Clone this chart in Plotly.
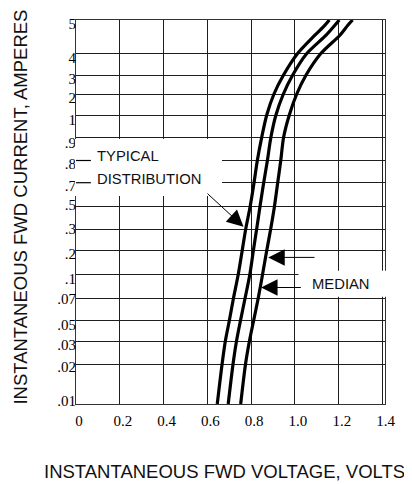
import numpy as np
import plotly.graph_objects as go

# ---- data ----
# y-axis gridline currents (bottom -> top), labels and the chart's (non-uniform) gridline positions
tick_currents = [0.01, 0.02, 0.03, 0.05, 0.07, 0.1, 0.2, 0.3, 0.5, 0.7, 0.8, 0.9, 1, 2, 3, 4, 5]
tick_labels = [".01", ".02", ".03", ".05", ".07", ".1", ".2", ".3", ".5", ".7", ".8", ".9",
               "1", "2", "3", "4", "5"]
grid_pos = [0, 39.8, 63, 83.3, 105.7, 129.7, 153.5, 175, 197.3, 221.3, 243.5, 266.7,
            289, 310, 328.7, 350.2, 384]

x_ticks = [0, 0.2, 0.4, 0.6, 0.8, 1.0, 1.2, 1.4]
x_tick_labels = ["0", "0.2", "0.4", "0.6", "0.8", "1.0", "1.2", "1.4"]

# curve samples: current (A) and forward voltage (V) of the three distribution curves
current = [0.01, 0.02, 0.03, 0.05, 0.07, 0.1, 0.2, 0.3, 0.5, 0.7, 0.8, 0.9, 1, 2, 3, 4, 4.55, 4.85, 5]
v_low = [0.645, 0.667, 0.682, 0.700, 0.719, 0.741, 0.759, 0.775, 0.795, 0.813, 0.828, 0.848,
         0.871, 0.904, 0.947, 1.011, 1.091, 1.137, 1.157]
v_median = [0.695, 0.717, 0.733, 0.751, 0.772, 0.794, 0.810, 0.825, 0.840, 0.857, 0.874, 0.890,
            0.913, 0.947, 0.989, 1.053, 1.142, 1.183, 1.202]
v_high = [0.752, 0.774, 0.792, 0.811, 0.832, 0.852, 0.871, 0.889, 0.906, 0.921, 0.935, 0.948,
          0.974, 1.008, 1.050, 1.117, 1.205, 1.242, 1.263]

# arrow targets (voltage, current)
arrow_typical = (0.765, 0.32)
arrow_upper = (0.878, 0.171)
arrow_median = (0.845, 0.0835)

# style: how far (px, downward) each y label sits from its gridline in the original
label_drop = [-3.7, 3, 3.6, 3.6, 0, 4.4, 3.4, 0, -1.7, 3, 3.5, 5, 4.5, 4, 3.4, 3.8, 4.2]


def ypos(c):
    """Chart's own current scale (piecewise between labelled gridlines)."""
    return np.interp(c, tick_currents, grid_pos)


GRID = "#1e1e1e"
fig = go.Figure()
for v in (v_low, v_median, v_high):
    fig.add_trace(go.Scatter(x=v, y=ypos(current), mode="lines",
                             line=dict(color="black", width=3.2, shape="spline", smoothing=0.8),
                             hoverinfo="skip"))
# carrier for the label axis
fig.add_trace(go.Scatter(x=[None], y=[None], yaxis="y2", mode="lines", hoverinfo="skip"))

sans = "Liberation Sans, Arial, sans-serif"
serif = "Liberation Serif, Times New Roman, serif"
label_pos = [g - d for g, d in zip(grid_pos, label_drop)]

# page body adds an 8px margin, so the figure is 8px smaller than the window on each axis
fig.update_layout(
    width=404, height=476,
    margin=dict(l=68, r=27, t=12, b=80),
    plot_bgcolor="white", paper_bgcolor="white",
    showlegend=False,
    xaxis=dict(range=[0, 1.411], tickvals=x_ticks, ticktext=x_tick_labels, automargin=False,
               showgrid=True, gridcolor=GRID, gridwidth=1, zeroline=False,
               showline=True, mirror=True, linecolor="#333", linewidth=1, ticks="",
               tickfont=dict(family=serif, size=15, color="black"), ticklabelshift=3,
               ticklabelstandoff=3),
    yaxis=dict(range=[0, 384], tickvals=grid_pos, showticklabels=False, automargin=False,
               showgrid=True, gridcolor=GRID, gridwidth=1, zeroline=False,
               showline=True, mirror=True, linecolor="#333", linewidth=1, ticks=""),
    yaxis2=dict(range=[0, 384], overlaying="y", side="left", anchor="x",
                tickvals=label_pos, ticktext=tick_labels, automargin=False,
                showgrid=False, zeroline=False, showline=False, ticks="",
                tickfont=dict(family=serif, size=15, color="black"), ticklabelstandoff=-1),
)

# axis titles
fig.add_annotation(x=0.482, y=-0.177, xref="paper", yref="paper", showarrow=False,
                   text="INSTANTANEOUS FWD VOLTAGE, VOLTS", xanchor="center", yanchor="middle",
                   font=dict(family=sans, size=18.5, color="#111"))
fig.add_annotation(x=-0.178, y=0.514, xref="paper", yref="paper", showarrow=False, textangle=-90,
                   text="INSTANTANEOUS FWD CURRENT, AMPERES", xanchor="center", yanchor="middle",
                   font=dict(family=sans, size=18.5, color="#111"))

# white label backgrounds (interrupt grid and frame like the original)
fig.add_shape(type="rect", layer="above", xref="paper", yref="y",
              x0=-0.0035, x1=0.4725, y0=208, y1=265, fillcolor="white", line_width=0)
fig.add_shape(type="rect", layer="above", xref="paper", yref="y",
              x0=0.72, x1=1.016, y0=107.3, y1=133.3, fillcolor="white", line_width=0)
# leader stubs of the .8 / .7 gridlines
for c in (0.8, 0.7):
    fig.add_shape(type="line", layer="above", xref="x", yref="y",
                  x0=0, x1=0.068, y0=float(ypos(c)), y1=float(ypos(c)),
                  line=dict(color="black", width=1.2))

fig.add_annotation(x=0.089, y=248.2, xref="x", yref="y", text="TYPICAL", showarrow=False,
                   xanchor="left", yanchor="middle", font=dict(family=sans, size=14.8, color="#111"))
fig.add_annotation(x=0.089, y=225.2, xref="x", yref="y", text="DISTRIBUTION", showarrow=False,
                   xanchor="left", yanchor="middle", font=dict(family=sans, size=14.8, color="#111"))
fig.add_annotation(x=1.068, y=120.5, xref="x", yref="y", text="MEDIAN", showarrow=False,
                   xanchor="left", yanchor="middle", font=dict(family=sans, size=14.8, color="#111"))

arrow_style = dict(showarrow=True, arrowhead=2, arrowsize=3.3, arrowwidth=1, arrowcolor="black",
                   text="", xref="x", yref="y", axref="pixel", ayref="pixel")
fig.add_annotation(x=arrow_typical[0], y=float(ypos(arrow_typical[1])), ax=-37.5, ay=-34.5, **arrow_style)
fig.add_annotation(x=arrow_upper[0], y=float(ypos(arrow_upper[1])), ax=47.7, ay=0, **arrow_style)
fig.add_annotation(x=arrow_median[0], y=float(ypos(arrow_median[1])), ax=41.3, ay=0, **arrow_style)

fig.write_html("out.html")
